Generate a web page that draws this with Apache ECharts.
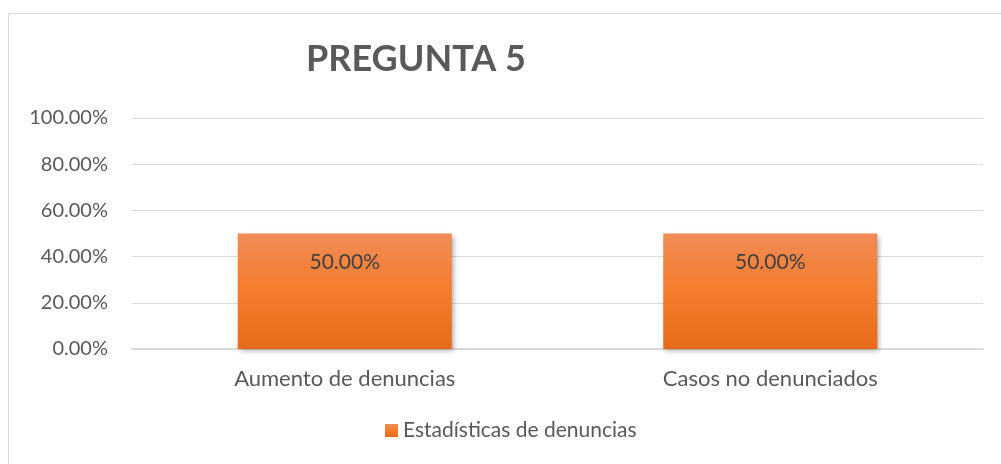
<!DOCTYPE html>
<html>
<head>
<meta charset="utf-8">
<script src="https://cdn.jsdelivr.net/npm/echarts@6/dist/echarts.min.js"></script>
<style>
  html, body { margin: 0; padding: 0; background: #fff; }
  #chart { width: 1001px; height: 464px; }
</style>
</head>
<body>
<div id="chart"></div>
<script>
    // datos del gráfico
    const categorias = ["Aumento de denuncias", "Casos no denunciados"];
    const valores = [0.5, 0.5];
    const nombreSerie = "Estadísticas de denuncias";
    const titulo = "PREGUNTA 5";

    const fuente = "Lato, 'Open Sans', sans-serif";
    const chart = echarts.init(document.getElementById("chart"));

    const option = {
        animation: false,
        backgroundColor: "#fff",
        title: {
            text: titulo,
            left: 301,
            top: 36,
            textStyle: { fontFamily: fuente, fontSize: 36, fontWeight: "bold", color: "#595959" }
        },
        graphic: [{
            type: "rect",
            shape: { x: 8.5, y: 13.5, width: 1010, height: 470 },
            style: { fill: "none", stroke: "#d9d9d9", lineWidth: 1 },
            silent: true
        }],
        legend: {
            bottom: 18,
            left: 380,
            itemWidth: 13,
            itemHeight: 13,
            itemGap: 6,
            icon: "rect",
            textStyle: { fontFamily: fuente, fontSize: 21, color: "#595959" },
            data: [nombreSerie]
        },
        grid: { left: 132, right: 18, top: 118, bottom: 115 },
        xAxis: {
            type: "category",
            data: categorias,
            axisLine: { lineStyle: { color: "#d9d9d9", width: 2 } },
            axisTick: { show: false },
            axisLabel: { fontFamily: fuente, fontSize: 22, color: "#595959", margin: 19 }
        },
        yAxis: {
            type: "value",
            min: 0,
            max: 1,
            interval: 0.2,
            axisLine: { show: false },
            axisTick: { show: false },
            splitLine: { lineStyle: { color: "#d9d9d9", width: 1 } },
            axisLabel: {
                fontFamily: fuente, fontSize: 20, color: "#595959", margin: 24,
                formatter: v => (v * 100).toFixed(2) + "%"
            }
        },
        series: [{
            name: nombreSerie,
            type: "bar",
            data: valores,
            barWidth: 214,
            itemStyle: {
                color: new echarts.graphic.LinearGradient(0, 0, 0, 1, [
                    { offset: 0, color: "#f08c56" },
                    { offset: 0.5, color: "#f47c2c" },
                    { offset: 1, color: "#e66b19" }
                ]),
                shadowColor: "rgba(0,0,0,0.35)",
                shadowBlur: 5,
                shadowOffsetX: 2,
                shadowOffsetY: 2
            },
            label: {
                show: true,
                position: "insideTop",
                distance: 18,
                fontFamily: fuente,
                fontSize: 21,
                color: "#404040",
                formatter: p => (p.value * 100).toFixed(2) + "%"
            }
        }]
    };

    chart.setOption(option);
    window.addEventListener("resize", () => chart.resize());
</script>
</body>
</html>
